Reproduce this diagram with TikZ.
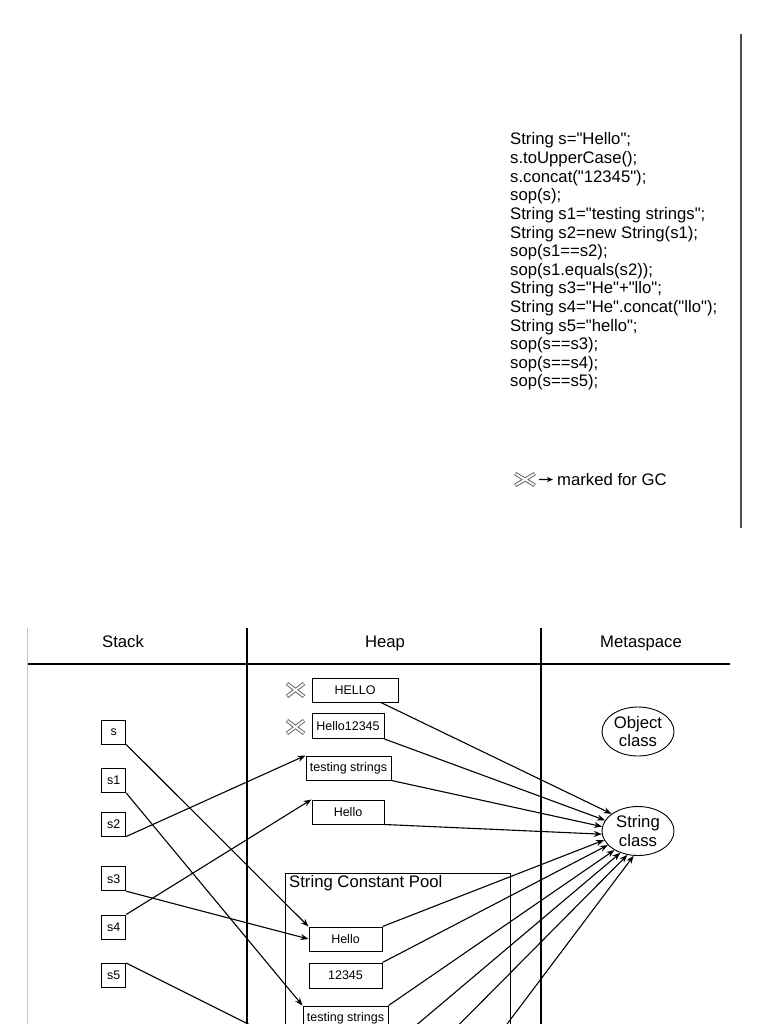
\documentclass[tikz,border=0pt]{standalone}
\usepackage{fontspec}
\setmainfont{Liberation Sans}
\usetikzlibrary{arrows.meta,shapes.geometric}
\newcommand{\qq}{\textquotedbl}
\begin{document}
\begin{tikzpicture}[x=1pt,y=-1pt,
  big/.style={font=\fontsize{16.7}{18.6}\selectfont},
  small/.style={font=\fontsize{12.5}{14}\selectfont},
  box/.style={draw, line width=1pt, inner sep=0pt, small},
  stk/.style={box, minimum width=24pt, minimum height=24pt},
  cls/.style={ellipse, draw, line width=0.9pt, inner sep=0pt, minimum width=72pt, minimum height=49pt, align=center, big},
  conn/.style={line width=1.1pt},
  arr/.style={conn, -{Stealth[length=8pt,width=6pt]}},
  tab/.style={line width=1.9pt},
  gcx/.pic={
    \draw[black!60, line width=3.8pt] (-8.5,-6.5) -- (8.5,6.5) (-8.5,6.5) -- (8.5,-6.5);
    \draw[white, line width=1.8pt] (-8,-6.1) -- (8,6.1) (-8,6.1) -- (8,-6.1);
  }]
\useasboundingbox (0,0) rectangle (768,1024);
\clip (0,0) rectangle (768,1024);

% top right separator
\draw[black!70, line width=1.5pt] (741,34) -- (741,528);

% code
\foreach \codeline [count=\i from 0] in {String s=\qq Hello\qq;, s.toUpperCase();, s.concat(\qq 12345\qq);, sop(s);, String s1=\qq testing strings\qq;, String s2=new String(s1);, sop(s1==s2);, sop(s1.equals(s2));, String s3=\qq He\qq+\qq llo\qq;, String s4=\qq He\qq.concat(\qq llo\qq);, String s5=\qq hello\qq;, sop(s==s3);, sop(s==s4);, sop(s==s5);}
  \node[big, anchor=base west, inner sep=0pt] (code\i) at (510,{145+18.6*\i}) {\codeline};

% legend
\node[minimum width=20pt, minimum height=12pt, inner sep=0pt] (gcleg) at (525,479.5) {};
\pic[xscale=1.15, yscale=0.9] at (525,479.5) {gcx};
\node[big, anchor=base west, inner sep=0pt] (legtext) at (557,485.5) {marked for GC};
\draw[conn, -{Stealth[length=6pt,width=5pt]}] ([xshift=4pt]gcleg.east) -- ([xshift=-4pt]legtext.west);

% table
\draw[gray!45, line width=1pt] (27,628) -- (27,1030);
\draw[tab] (28,664) -- (730,664);
\draw[tab] (247,628) -- (247,1030);
\draw[tab] (541,628) -- (541,1030);
\node[big, anchor=base] (hstack) at (123,647) {Stack};
\node[big, anchor=base] (hheap) at (385,647) {Heap};
\node[big, anchor=base] (hmeta) at (641,647) {Metaspace};

% stack
\node[stk] (s)  at (113.7,732)   {s};
\node[stk] (s1) at (113.7,780.5) {s1};
\node[stk] (s2) at (113.7,824)   {s2};
\node[stk] (s3) at (113.7,878.7) {s3};
\node[stk] (s4) at (113.7,927)   {s4};
\node[stk] (s5) at (113.7,975.5) {s5};

% heap
\pic at (295.5,690) {gcx};
\pic at (295.5,727) {gcx};
\node[box, minimum width=86pt, minimum height=24pt] (HELLO)  at (355,690)   {HELLO};
\node[box, minimum width=72pt, minimum height=25pt] (H12345) at (348,726)   {Hello12345};
\node[box, minimum width=85pt, minimum height=24pt] (tsH)    at (348.5,768) {testing strings};
\node[box, minimum width=72pt, minimum height=24pt] (HelloH) at (348,812)   {Hello};

\node[draw, line width=1pt, inner sep=0pt, minimum width=225pt, minimum height=200pt, anchor=north west] (pool) at (285,873) {};
\node[big, anchor=base west, inner sep=0pt] (pooltitle) at (289,887) {String Constant Pool};
\node[box, minimum width=73pt, minimum height=24pt] (HelloP) at (345.5,939)   {Hello};
\node[box, minimum width=73pt, minimum height=25pt] (P12345) at (345.5,975.5) {12345};
\node[box, minimum width=85pt, minimum height=24pt] (tsP)    at (345.5,1018)  {testing strings};

% metaspace
\node[cls] (OC) at (638,731.5) {Object\\class};
\node[cls] (SC) at (638,831) {String\\class};

% off-picture ends
\coordinate (b0) at (306,1053);
\coordinate (b1) at (375,1060);
\coordinate (b2) at (424,1060);
\coordinate (b3) at (480,1060);

% stack references
\draw[arr] (s.south east) -- (HelloP.north west);
\draw[arr] (s1.south east) -- (tsP.north west);
\draw[arr] (s2.south east) -- (tsH.north west);
\draw[arr] (s3.south east) -- (HelloP.west);
\draw[arr] (s4.north east) -- (HelloH.north west);
\draw[conn] (s5.north east) -- (b0);

% class references
\draw[arr] (HELLO) -- (SC.147);
\draw[arr] (H12345.south east) -- (SC.162);
\draw[arr] (tsH.south east) -- (SC.173);
\draw[arr] (HelloH.south east) -- (SC.185);
\draw[arr] (HelloP.north east) -- (SC.195);
\draw[arr] (P12345.north east) -- (SC.205);
\draw[arr] (tsP.north east) -- (SC.219);
\draw[arr] (b1) -- (SC.231);
\draw[arr] (b2) -- (SC.246);
\draw[arr] (b3) -- (SC.260);
\end{tikzpicture}
\end{document}
